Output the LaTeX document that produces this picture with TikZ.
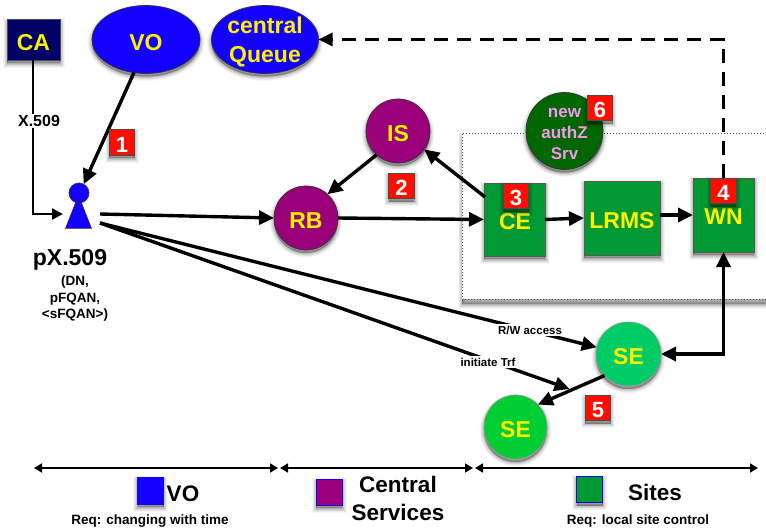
\documentclass[tikz,border=0pt]{standalone}
\usepackage{fontspec}
\setmainfont{Liberation Sans}[BoldFont={Liberation Sans Bold}]
\usetikzlibrary{arrows.meta,shapes.geometric,shadows,calc}
\definecolor{cNavy}{RGB}{0,0,102}
\definecolor{cBlue}{RGB}{20,0,255}
\definecolor{cPurple}{RGB}{153,0,122}
\definecolor{cGreen}{RGB}{0,153,51}
\definecolor{cSEa}{RGB}{0,204,102}
\definecolor{cSEb}{RGB}{0,204,51}
\definecolor{cDark}{RGB}{0,102,0}
\definecolor{cPink}{RGB}{245,150,240}
\definecolor{cRed}{RGB}{255,14,0}
\tikzset{
  shlayer/.style={general shadow={shadow xshift=0pt,shadow yshift=-#1,draw=black,solid,fill=black,line width=9pt,opacity=.035},
    general shadow={shadow xshift=0pt,shadow yshift=-#1,draw=black,solid,fill=black,line width=7pt,opacity=.05},
    general shadow={shadow xshift=0pt,shadow yshift=-#1,draw=black,solid,fill=black,line width=5pt,opacity=.07},
    general shadow={shadow xshift=0pt,shadow yshift=-#1,draw=black,solid,fill=black,line width=3pt,opacity=.09},
    general shadow={shadow xshift=0pt,shadow yshift=-#1,draw=black,solid,fill=black,line width=1pt,opacity=.1}},
  softshadow/.style={shlayer=3pt},
  base/.style={font=\bfseries\fontsize{23}{27}\selectfont,text=yellow,inner sep=0pt,outer sep=0pt,align=center,softshadow,text height=21pt,text depth=0pt},
  plaintxt/.style={inner sep=0pt,align=center,text=yellow,font=\bfseries\fontsize{23}{28.5}\selectfont},
  oval/.style={base,ellipse,draw=black!80,line width=.7pt,fill=cBlue},
  ball/.style={base,circle,draw=black!80,line width=.7pt},
  site/.style={base,rectangle,draw=black!65,line width=.8pt,fill=cGreen},
  badge/.style={rectangle,fill=cRed,draw=black!70,line width=.7pt,text=white,font=\bfseries\fontsize{22}{26}\selectfont,minimum width=25.5pt,minimum height=25.5pt,inner sep=0pt,outer sep=0pt,softshadow,text height=19pt,text depth=0pt},
  conn/.style={line width=3.4pt,-{Triangle[length=15pt,width=14pt]}},
  thinconn/.style={line width=2.2pt,-{Triangle[length=11pt,width=11pt]}},
  span/.style={line width=1.6pt,{Triangle[length=8pt,width=9pt]}-{Triangle[length=8pt,width=9pt]},black},
  lab/.style={fill=white,inner sep=1.5pt,font=\bfseries\fontsize{11.5}{13}\selectfont},
  legend/.style={rectangle,draw=cBlue,line width=.8pt,inner sep=0pt,outer sep=0pt,minimum width=26pt,minimum height=26pt,softshadow},
  legtext/.style={inner sep=0pt,font=\bfseries\fontsize{22.5}{28}\selectfont,align=center},
  req/.style={inner sep=0pt,font=\bfseries\fontsize{13.5}{15}\selectfont}
}
\begin{document}
\begin{tikzpicture}[x=1pt,y=-1pt]
\useasboundingbox (0,0) rectangle (766,530);
% site box
\node[name=box,rectangle,fill=white,draw=black!70,dotted,line width=1pt,minimum width=320pt,minimum height=166pt,inner sep=0pt,outer sep=0pt,shlayer=5pt] at (622,216) {};
\clip (0,0) rectangle (766,530);
% nodes
\node[base,rectangle,fill=cNavy,draw=black!70,line width=.8pt,minimum width=53pt,minimum height=41pt] (ca) at (33.5,39.5) {CA};
\node[oval,minimum width=108pt,minimum height=68pt] (vo) at (146,39.5) {VO};
\node[oval,minimum width=107pt,minimum height=68pt] (cq) at (265,39.5) {};
\node[plaintxt] (cqt) at (265,42) {central\\Queue};
\node[ball,fill=cPurple,minimum size=64pt] (rb) at (306,218) {RB};
\node[ball,fill=cPurple,minimum size=64pt] (is) at (398,131) {IS};
\node[ball,fill=cDark,minimum size=77pt] (az) at (564.5,131) {};
\node[plaintxt,text=cPink,font=\bfseries\fontsize{17}{21}\selectfont] (azt) at (564.5,134) {new\\authZ\\Srv};
\node[site,minimum width=61pt,minimum height=73pt] (ce) at (514.5,219.5) {};
\node[plaintxt] (cet) at (515,222) {CE};
\node[site,minimum width=76pt,minimum height=74pt] (lrms) at (622,218) {LRMS};
\node[site,minimum width=61pt,minimum height=74pt] (wn) at (723.5,215) {};
\node[plaintxt] (wnt) at (723.5,217) {WN};
\node[base,ellipse,draw=black!40,line width=.6pt,fill=cSEa,minimum width=65pt,minimum height=64pt] (sea) at (628.5,354) {SE};
\node[base,ellipse,draw=black!40,line width=.6pt,fill=cSEb,minimum width=63pt,minimum height=64pt] (seb) at (515.5,427) {SE};
% person
\node[isosceles triangle,isosceles triangle apex angle=43,shape border rotate=90,draw=black!80,line width=.6pt,fill=cBlue,minimum height=33pt,minimum width=26pt,inner sep=0pt,outer sep=0pt] (body) at (78.5,219.5) {};
\node[circle,draw=black!80,line width=.7pt,fill=cBlue,minimum size=20pt,inner sep=0pt,outer sep=0pt] (head) at (79,193) {};
\coordinate (pw) at (63,214);
\coordinate (pe) at (100,214);
\coordinate (pse) at (100,223);
\node[inner sep=0pt,font=\bfseries\fontsize{23}{26}\selectfont] (px) at (70,260) {pX.509};
\node[inner sep=0pt,align=center,font=\bfseries\fontsize{13.5}{16.5}\selectfont] (pxs) at (75,299) {(DN,\\pFQAN,\\<sFQAN>)};
% connectors
\draw[thinconn] (ca.south -| 33,0) |- (pw);
\node[lab,font=\bfseries\fontsize{16}{18}\selectfont] (x509) at (39,121) {X.509};
\draw[conn] (vo.250) -- (head.62);
\draw[conn] (pe) -- (rb.west);
\draw[conn] (pse) -- (sea.168);
\draw[conn] (pse) -- ($(seb.north)+(54,-6)$);
\node[lab] (rw) at (530,330) {R/W access};
\node[lab] (tr) at (488,362) {initiate Trf};
\draw[conn] (rb.east) -- (ce.west);
\draw[conn] (is.228) -- (rb.48);
\draw[conn] (ce.north west)+(1,14) -- (is.-35);
\draw[conn] (ce.east) -- (lrms.west);
\draw[conn] (lrms.east |- wn.west) -- (wn.west);
\draw[line width=3.4pt,{Triangle[length=15pt,width=14pt]}-{Triangle[length=15pt,width=14pt]}] (wn.south) |- (sea.east);
\draw[conn] (sea.222) -- (seb.45);
\draw[line width=3pt,dash pattern=on 14pt off 9pt,-{Triangle[length=14pt,width=13pt,sep=0pt]}] (wn.north) |- (cq.east);
% badges
\node[badge] (b1) at (122,142.5) {1};
\node[badge] (b2) at (401.5,186) {2};
\node[badge] (b3) at (516,196) {3};
\node[badge] (b4) at (723.5,191) {4};
\node[badge] (b5) at (598,408) {5};
\node[badge] (b6) at (600,108) {6};
% spans
\coordinate (s1) at (34,468); \coordinate (s2) at (278,468);
\coordinate (s3) at (280,468); \coordinate (s4) at (473,468);
\coordinate (s5) at (475,468); \coordinate (s6) at (758,468);
\draw[span] (s1) -- (s2);
\draw[span] (s3) -- (s4);
\draw[span] (s5) -- (s6);
% legend
\node[legend,fill=cBlue,minimum height=27pt] (l1) at (150.5,490.5) {};
\node[legend,fill=cPurple] (l2) at (329,492) {};
\node[legend,fill=cGreen] (l3) at (589.5,489.5) {};
\node[legtext] (t1) at (183,494) {VO};
\node[legtext] (t2) at (398,498) {Central\\Services};
\node[legtext] (t3) at (655,492) {Sites};
\node[req] (r1) at (150,521) {Req: changing with time};
\node[req] (r3) at (638,521) {Req: local site control};
\end{tikzpicture}
\end{document}
